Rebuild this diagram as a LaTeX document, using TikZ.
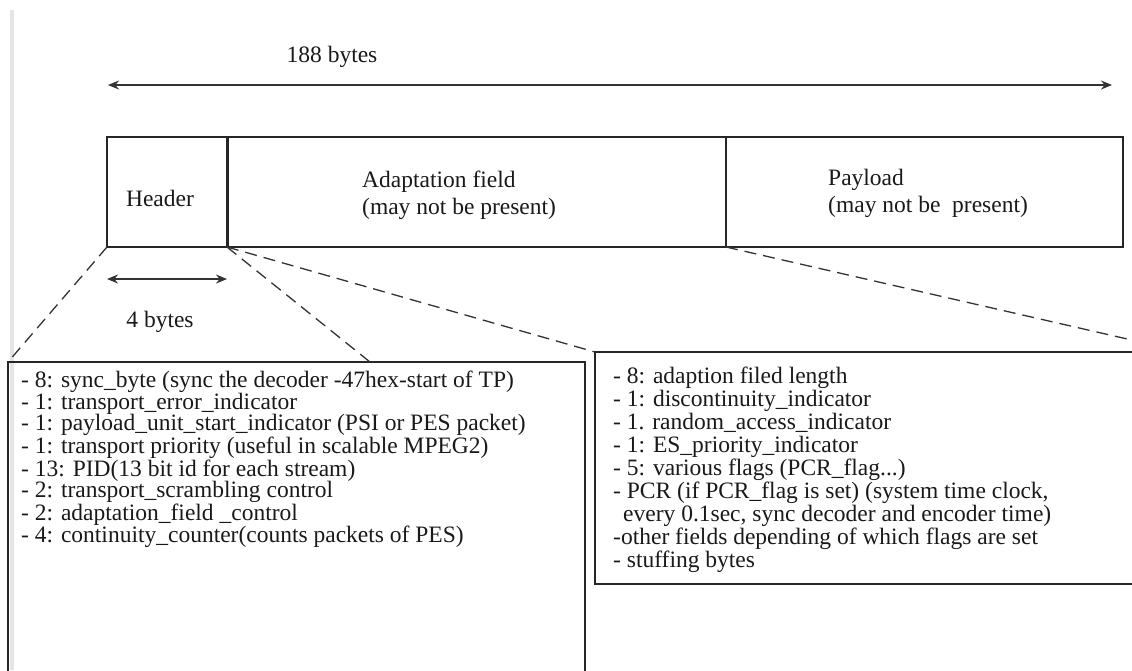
\documentclass[tikz,border=0pt]{standalone}
\usepackage{fontspec}
\setmainfont{Liberation Serif}
\usepackage{tikz}
\usetikzlibrary{shapes,arrows,arrows.meta}
\usetikzlibrary{positioning}
\tikzstyle{arrow} = [line width=2pt,<->,>={Stealth[length=11pt,width=9pt]},draw=black!80]
\tikzstyle{pkt} = [
    rectangle, minimum height=110pt, inner sep=0pt, outer sep=0pt,
    draw=black!85, line width=1.6pt]
\tikzstyle{fieldtxt} = [align=left, inner sep=0pt, text=black!90, font=\fontsize{23.5}{27}\selectfont]
\tikzstyle{listbox} = [rectangle, draw=black!85, line width=1.6pt, inner sep=0pt, outer sep=0pt]
\tikzstyle{listtxt} = [align=left, inner sep=0pt, anchor=north west, text=black!90]

\tikzstyle{zoomline} = [dash pattern=on 12pt off 7pt, line width=1.3pt, draw=black!80]

\begin{document}
\begin{tikzpicture}[x=1pt,y=-1pt]
\useasboundingbox (0,0) rectangle (1132,670);
\clip (0,0) rectangle (1132,670);
\draw[gray!20, line width=4pt] (12,10) -- (12,670);

% the packet
\node (hdr) [pkt, minimum width=120pt, anchor=north west] at (107,137) {};
\node (adapt) [pkt, minimum width=499pt, right=0pt of hdr] {};
\node (payload) [pkt, minimum width=397pt, right=0pt of adapt] {};
\draw[line width=3pt, draw=black!85] (hdr.north east) -- (hdr.south east);

\node (hdrtxt) [fieldtxt] at ([xshift=-7pt,yshift=-6pt]hdr.center) {Header};
\node (adapttxt) [fieldtxt, anchor=west] at ([xshift=135pt,yshift=-3pt]adapt.west) {
    Adaptation field \\
    (may not be present)
};
\node (paytxt) [fieldtxt, anchor=west] at ([xshift=102pt,yshift=-1pt]payload.west) {
    Payload \\
    (may not be\ \ present)
};

% sizes
\coordinate (lenL) at (108,85);
\coordinate (lenR) at (1112,85);
\draw[arrow] (lenL) -- (lenR);
\node (total) [fieldtxt] at (332,57) {188 bytes};
\draw[arrow] ([yshift=-32pt]hdr.south west) -- ([yshift=-32pt]hdr.south east);
\node (hdrlen) [fieldtxt] at (160,322) {4 bytes};

% detail boxes
\node (hdrbox) [listbox, minimum width=577pt, minimum height=340pt, anchor=north west] at (8,362) {};
\node (afbox) [listbox, minimum width=589pt, minimum height=232pt, anchor=north west] at (595,352) {};

\node (hdrlist) [listtxt, font=\fontsize{23.5}{21.6}\selectfont]
    at ([shift={(13pt,-9pt)}]hdrbox.north west) {
    - 8: sync\_byte (sync the decoder -47hex-start of TP) \\
    - 1: transport\_error\_indicator \\
    - 1: payload\_unit\_start\_indicator (PSI or PES packet) \\
    - 1: transport priority (useful in scalable MPEG2) \\
    - 13: PID(13 bit id for each stream) \\
    - 2: transport\_scrambling control \\
    - 2: adaptation\_field \_control \\
    - 4: continuity\_counter(counts packets of PES)
};
\node (aflist) [listtxt, font=\fontsize{23.5}{23}\selectfont]
    at ([shift={(18pt,-15pt)}]afbox.north west) {
    - 8: adaption filed length \\
    - 1: discontinuity\_indicator \\
    - 1. random\_access\_indicator \\
    - 1: ES\_priority\_indicator \\
    - 5: various flags (PCR\_flag...) \\
    - PCR (if PCR\_flag is set) (system time clock, \\
    \hspace{10pt}every 0.1sec, sync decoder and encoder time) \\
    -other fields depending of which flags are set \\
    - stuffing bytes
};

% zoom lines
\coordinate (hdrfan) at (370,362);
\draw[zoomline] (hdr.south west) -- (hdrbox.north west);
\draw[zoomline] (hdr.south east) -- (hdrfan);
\draw[zoomline] (hdr.south east) -- (afbox.north west);
\draw[zoomline] (payload.south west) -- (afbox.north east);
\end{tikzpicture}
\end{document}
